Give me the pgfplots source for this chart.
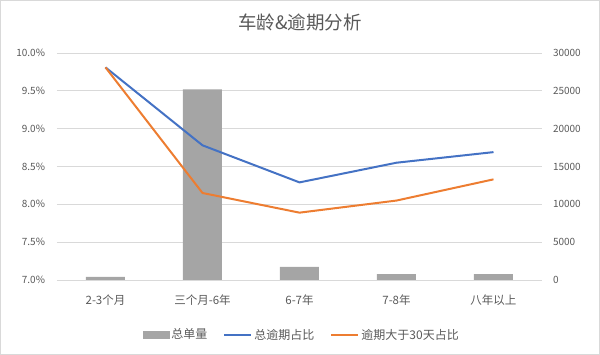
\documentclass[border=0pt]{standalone}
\usepackage{pgfplots}
\pgfplotsset{compat=1.18}
\usetikzlibrary{calc}
\usepackage{fontspec}
\setmainfont{Noto Sans CJK SC}
\definecolor{barc}{HTML}{A5A5A5}
\definecolor{bluec}{HTML}{4472C4}
\definecolor{orangec}{HTML}{ED7D31}
\definecolor{gridc}{HTML}{D9D9D9}
\definecolor{txtc}{HTML}{595959}
\pgfplotsset{
  mylinelegend/.style={legend image code/.code={\draw[##1] (0pt,0pt) -- (27pt,0pt);}},
  mybarlegend/.style={legend image code/.code={\fill[barc] (0pt,-3.5pt) rectangle (26pt,3.5pt);}},
}
\begin{document}
\begin{tikzpicture}
\begin{axis}[
  name=ax,
  at={(0pt,0pt)}, anchor=south west, scale only axis,
  width=485pt, height=227pt,
  xmin=-0.5, xmax=4.5, ymin=0, ymax=30000,
  axis y line*=right, axis x line*=bottom,
  y axis line style={draw=none},
  x axis line style={gridc, line width=0.8pt},
  scaled y ticks=false,
  ytick={0,5000,10000,15000,20000,25000,30000},
  yticklabels={0,5000,10000,15000,20000,25000,30000},
  xtick={0,1,2,3,4},
  xticklabels={2-3个月,三个月-6年,6-7年,7-8年,八年以上},
  major tick length=0pt,
  ymajorgrids, grid style={gridc, line width=0.8pt},
  yticklabel style={font=\fontsize{10}{12}\selectfont, text=txtc, anchor=west, xshift=7.5pt},
  xticklabel style={font=\fontsize{11.5}{13}\selectfont, text=txtc, anchor=center, yshift=-20pt},
]
\addplot[ybar, bar width=39pt, fill=barc, draw=none] coordinates {
  (0,400) (1,25200) (2,1720) (3,790) (4,790)
};
\end{axis}

\begin{axis}[
  at={(0pt,0pt)}, anchor=south west, scale only axis,
  width=485pt, height=227pt,
  xmin=-0.5, xmax=4.5, ymin=7, ymax=10,
  axis y line*=left, axis x line=none,
  y axis line style={draw=none},
  ytick={7,7.5,8,8.5,9,9.5,10},
  yticklabels={7.0\%,7.5\%,8.0\%,8.5\%,9.0\%,9.5\%,10.0\%},
  major tick length=0pt,
  yticklabel style={font=\fontsize{10}{12}\selectfont, text=txtc, anchor=east, xshift=-8.5pt},
  legend columns=3,
  legend style={draw=none, fill=none, at={(0.505,-0.241)}, anchor=center,
    font=\fontsize{12}{14}\selectfont, text=txtc,
    /tikz/every even column/.append style={column sep=14pt}},
]
\addlegendimage{mybarlegend}
\addlegendentry{总单量}
\addplot[color=bluec, line width=2pt, line join=round, mylinelegend] coordinates {
  (0,9.81) (1,8.78) (2,8.29) (3,8.55) (4,8.69)
};
\addlegendentry{总逾期占比}
\addplot[color=orangec, line width=2pt, line join=round, mylinelegend] coordinates {
  (0,9.81) (1,8.15) (2,7.89) (3,8.05) (4,8.33)
};
\addlegendentry{逾期大于30天占比}
\end{axis}
\node[text=txtc, font=\fontsize{18.5}{20}\selectfont] at ($(ax.south west)+(243pt,258pt)$) {车龄\&逾期分析};
\draw[gridc, line width=0.8pt] ($(ax.south west)+(-56.6pt,-74.6pt)$) rectangle ($(ax.south west)+(542.6pt,279.6pt)$);
\end{tikzpicture}
\end{document}
